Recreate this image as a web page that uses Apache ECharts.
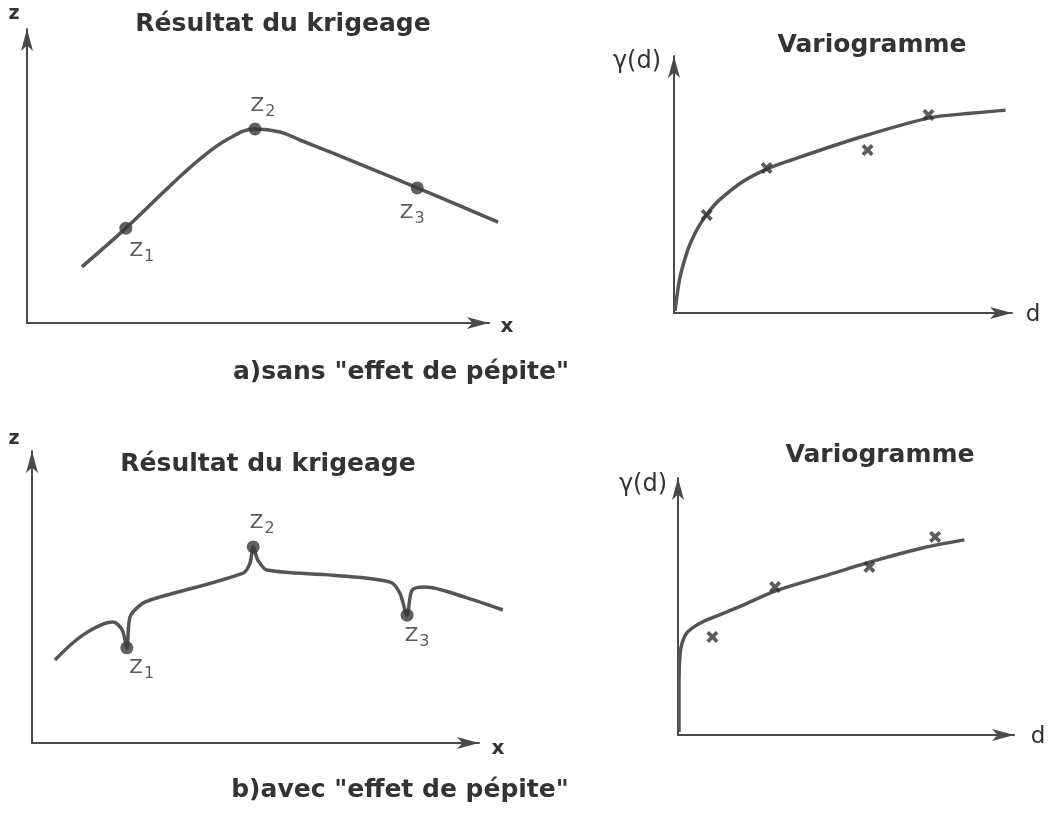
<!DOCTYPE html>
<html>
<head>
<meta charset="utf-8">
<script src="https://cdn.jsdelivr.net/npm/echarts@6/dist/echarts.min.js"></script>
<style>
  html, body { margin: 0; background: #fff; }
  #main { width: 1048px; height: 814px; }
</style>
</head>
<body>
<div id="main"></div>
<script>
// a) sans "effet de pépite" : courbe krigée, points mesurés, variogramme
const krigeA = [[11.6, 18.4], [20.9, 31.1], [29.8, 44.3], [36.6, 53.8], [42.5, 60.3], [48.2, 63.6],
  [53.5, 62.6], [57.7, 60.0], [64.7, 55.7], [71.9, 51.1], [82.5, 44.3], [99.6, 33.1]];
const pointsA = [[20.9, 31.1], [48.2, 63.6], [82.5, 44.3]];
const varioA = [[0.3, 0.7], [0.9, 6.7], [1.7, 13.1], [2.9, 19.0], [4.3, 24.6], [6.0, 29.5], [8.0, 34.0],
  [10.3, 38.1], [13.2, 42.2], [19.8, 48.9], [26.9, 53.7], [34.1, 57.1], [53.3, 65.3], [74.2, 72.8],
  [86.8, 74.6], [96.3, 75.7]];
const expA = [[9.5, 36.6], [26.9, 54.1], [56.2, 60.8], [73.9, 73.9]];

// b) avec "effet de pépite"
const krigeB = [[5.0, 27.4], [11.1, 35.6], [17.7, 39.9], [19.7, 37.3], [20.7, 31.4], [21.4, 41.6], [23.6, 45.5],
  [25.8, 47.2], [46.1, 56.1], [47.6, 59.4], [48.3, 64.7], [49.3, 60.4], [51.3, 57.1], [65.7, 55.4],
  [78.2, 53.1], [80.3, 49.5], [81.9, 42.2], [83.0, 50.5], [85.8, 51.5], [95.0, 47.9], [102.8, 43.9]];
const pointsB = [[20.7, 31.4], [48.3, 64.7], [81.9, 42.2]];
const varioB = [[0.3, 1.1], [0.3, 20.5], [0.6, 29.9], [1.2, 34.3], [2.6, 38.1], [5.5, 41.0], [9.2, 43.3],
  [17.9, 47.8], [28.5, 53.7], [42.9, 59.3], [57.3, 64.9], [71.8, 69.8], [84.1, 72.8]];
const expB = [[10.1, 36.6], [28.5, 55.2], [56.2, 62.7], [75.5, 73.9]];

const pointLabels = ['1', '2', '3'];

const ink = '#333';
const curveColor = '#555';
const font = 'DejaVu Sans';
const arrowLen = 22;

// décalage des étiquettes Z par rapport aux points
const offA = [[16, 25], [8, -21], [-5, 27]];
const offB = [[15, 22], [9, -22], [10, 23]];

// cadres des panneaux, de l'origine jusqu'à la pointe des flèches
const frames = [
  { left: 27, top: 18, width: 473, height: 305 },
  { left: 674, top: 45, width: 349, height: 268 },
  { left: 32, top: 440, width: 458, height: 303 },
  { left: 678, top: 467, width: 347, height: 268 }
];
// la flèche est centrée sur l'extrémité de l'axe : on raccourcit l'axe d'une demi-flèche
const half = arrowLen / 2;
// zone de tracé plus large (même échelle) pour que les courbes puissent dépasser la flèche
const extra = 30;

const grids = frames.map(f => ({
  left: f.left, top: f.top + half, width: f.width - half, height: f.height - half
})).concat(frames.map(f => ({
  left: f.left, top: f.top, width: f.width + extra, height: f.height
})));

function hidden(i, max) {
  return {
    type: 'value', gridIndex: i, min: 0, max: max, show: false,
    axisLine: { show: false }, axisTick: { show: false }, axisLabel: { show: false }, splitLine: { show: false }
  };
}

function axes(dim) {
  const arrows = [0, 1, 2, 3].map(i => {
    const len = dim === 'x' ? frames[i].width : frames[i].height;
    return {
      type: 'value', gridIndex: i, min: 0, max: 100 * (len - half) / len,
      axisLine: {
        show: true, onZero: false,
        symbol: ['none', 'arrow'], symbolSize: [9, arrowLen],
        lineStyle: { color: '#4a4a4a', width: 2 }
      },
      axisTick: { show: false }, axisLabel: { show: false }, splitLine: { show: false }
    };
  });
  const plots = [0, 1, 2, 3].map(i => dim === 'x'
    ? hidden(i + 4, 100 * (frames[i].width + extra) / frames[i].width)
    : hidden(i + 4, 100));
  return arrows.concat(plots);
}

function curve(data, i, smooth) {
  return {
    type: 'line', xAxisIndex: i + 4, yAxisIndex: i + 4, data: data,
    smooth: smooth, symbol: 'none', silent: true,
    lineStyle: { color: curveColor, width: 3.5 }
  };
}

function dots(data, offs, i) {
  return {
    type: 'scatter', xAxisIndex: i + 4, yAxisIndex: i + 4, symbolSize: 13, z: 5,
    itemStyle: { color: '#383838' },
    data: data.map((p, k) => ({ value: p, label: { offset: offs[k] } })),
    label: {
      show: true, position: 'inside',
      formatter: p => '{z|Z}{s|' + pointLabels[p.dataIndex] + '}',
      rich: {
        z: { fontFamily: font, fontSize: 20, color: ink, lineHeight: 24, verticalAlign: 'top' },
        s: { fontFamily: font, fontSize: 16, color: ink, lineHeight: 18, verticalAlign: 'bottom', padding: [0, 0, 0, 1] }
      }
    }
  };
}

function crosses(data, i) {
  return {
    type: 'scatter', xAxisIndex: i + 4, yAxisIndex: i + 4, data: data,
    symbol: 'path://M0,2.2L2.2,0L5,2.8L7.8,0L10,2.2L7.2,5L10,7.8L7.8,10L5,7.2L2.2,10L0,7.8L2.8,5Z',
    symbolSize: 12, itemStyle: { color: '#333' }, z: 6
  };
}

function txt(text, x, y, size, weight) {
  return {
    type: 'text', x: x, y: y,
    style: {
      text: text, fill: ink, font: (weight || 'normal') + ' ' + size + 'px "' + font + '"',
      align: 'center', verticalAlign: 'middle', textAlign: 'center', textVerticalAlign: 'middle'
    }
  };
}

function title(text, x, y) {
  return {
    text: text, left: x, top: y, textAlign: 'center', padding: 0,
    textStyle: { fontFamily: font, fontSize: 25, fontWeight: 'bold', color: ink }
  };
}

const chart = echarts.init(document.getElementById('main'));
chart.setOption({
  backgroundColor: '#fff',
  animation: false,
  title: [
    title('Résultat du krigeage', 283, 12),
    title('Variogramme', 872, 33),
    title('Résultat du krigeage', 268, 452),
    title('Variogramme', 880, 443),
    title('a)sans "effet de pépite"', 401, 360),
    title('b)avec "effet de pépite"', 400, 778)
  ],
  grid: grids,
  xAxis: axes('x'),
  yAxis: axes('y'),
  series: [
    curve(krigeA, 0, 0.4), dots(pointsA, offA, 0),
    curve(varioA, 1, 0.3), crosses(expA, 1),
    curve(krigeB, 2, 0.3), dots(pointsB, offB, 2),
    curve(varioB, 3, 0.3), crosses(expB, 3)
  ],
  graphic: [
    txt('z', 14, 14, 19, 'bold'),
    txt('x', 507, 327, 20, 'bold'),
    txt('γ(d)', 637, 62, 24),
    txt('d', 1033, 315, 23),
    txt('z', 14, 439, 19, 'bold'),
    txt('x', 498, 749, 20, 'bold'),
    txt('γ(d)', 643, 485, 24),
    txt('d', 1038, 737, 23)
  ]
});
</script>
</body>
</html>
